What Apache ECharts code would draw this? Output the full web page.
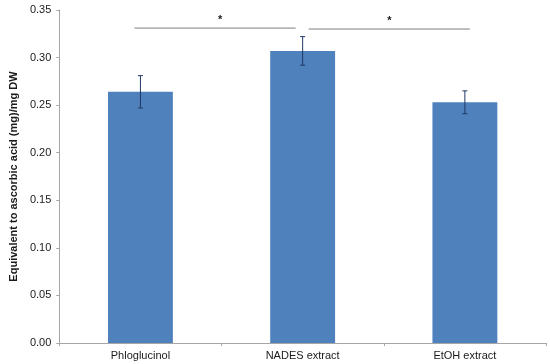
<!DOCTYPE html>
<html>
<head>
<meta charset="utf-8">
<script src="https://cdn.jsdelivr.net/npm/echarts@6/dist/echarts.min.js"></script>
<style>html,body{margin:0;padding:0;background:#fff}#c{width:550px;height:364px}</style>
</head>
<body>
<div id="c"></div>
<script>
var categories = ['Phloglucinol', 'NADES extract', 'EtOH extract'];
var means = [0.264, 0.307, 0.253];
var errors = [0.017, 0.015, 0.012];
var yTicks = [0, 0.05, 0.10, 0.15, 0.20, 0.25, 0.30, 0.35];
var sigPairs = [[0, 1], [1, 2]];
var sigLevels = [0.331, 0.330];
var sigLabels = ['*', '*'];

var errData = categories.map(function (c, i) { return [i, means[i], errors[i]]; });
var sigData = sigPairs.map(function (p, i) { return [p[0], p[1], sigLevels[i], i]; });

var chart = echarts.init(document.getElementById('c'), null, {renderer: 'canvas'});
var font = '"Liberation Sans", Arial, sans-serif';
chart.setOption({
  animation: false,
  grid: {left: 48, right: 4, top: 10, bottom: 21},
  xAxis: {
    type: 'category',
    data: categories,
    axisLine: {lineStyle: {color: '#a6a6a6', width: 1}},
    axisTick: {show: true, length: 3, lineStyle: {color: '#a6a6a6'}},
    axisLabel: {color: '#1a1a1a', fontSize: 11, fontFamily: font, margin: 7}
  },
  yAxis: {
    type: 'value',
    min: yTicks[0],
    max: yTicks[yTicks.length - 1],
    interval: 0.05,
    splitLine: {show: false},
    axisLine: {show: true, lineStyle: {color: '#a6a6a6', width: 1}},
    axisTick: {show: true, length: 3, lineStyle: {color: '#a6a6a6'}},
    axisLabel: {color: '#1a1a1a', fontSize: 11, fontFamily: font, margin: 8,
      formatter: function (v) { return v.toFixed(2); }},
    name: 'Equivalent to ascorbic acid (mg)/mg DW',
    nameLocation: 'middle',
    nameGap: 33,
    nameTextStyle: {color: '#1a1a1a', fontSize: 11, fontWeight: 'bold', fontFamily: font}
  },
  series: [
    {
      type: 'bar',
      data: means,
      barWidth: '40%',
      itemStyle: {color: '#4f81bd'}
    },
    {
      type: 'custom',
      data: errData,
      z: 10,
      renderItem: function (params, api) {
        var x = api.value(0), m = api.value(1), e = api.value(2);
        var hi = api.coord([x, m + e]);
        var lo = api.coord([x, m - e]);
        var cap = 2.5;
        var st = {stroke: '#1f3864', lineWidth: 1};
        return {
          type: 'group',
          children: [
            {type: 'line', shape: {x1: hi[0], y1: hi[1], x2: lo[0], y2: lo[1]}, style: st},
            {type: 'line', shape: {x1: hi[0] - cap, y1: hi[1], x2: hi[0] + cap, y2: hi[1]}, style: st},
            {type: 'line', shape: {x1: lo[0] - cap, y1: lo[1], x2: lo[0] + cap, y2: lo[1]}, style: st}
          ]
        };
      }
    },
    {
      type: 'custom',
      data: sigData,
      z: 10,
      renderItem: function (params, api) {
        var a = api.coord([api.value(0), api.value(2)]);
        var b = api.coord([api.value(1), api.value(2)]);
        var idx = api.value(3);
        var x1 = a[0] + (idx === 0 ? -6 : 6);
        var x2 = b[0] + (idx === 0 ? -7 : 5);
        return {
          type: 'group',
          children: [
            {type: 'line', shape: {x1: x1, y1: a[1], x2: x2, y2: a[1]},
              style: {stroke: '#7f7f7f', lineWidth: 1}},
            {type: 'text', x: (x1 + x2) / 2 + (idx === 0 ? 5 : 0), y: a[1] - 3,
              style: {text: sigLabels[idx], fill: '#1a1a1a', font: 'bold 11px ' + font,
                align: 'center', verticalAlign: 'bottom'}}
          ]
        };
      }
    }
  ]
});
</script>
</body>
</html>
